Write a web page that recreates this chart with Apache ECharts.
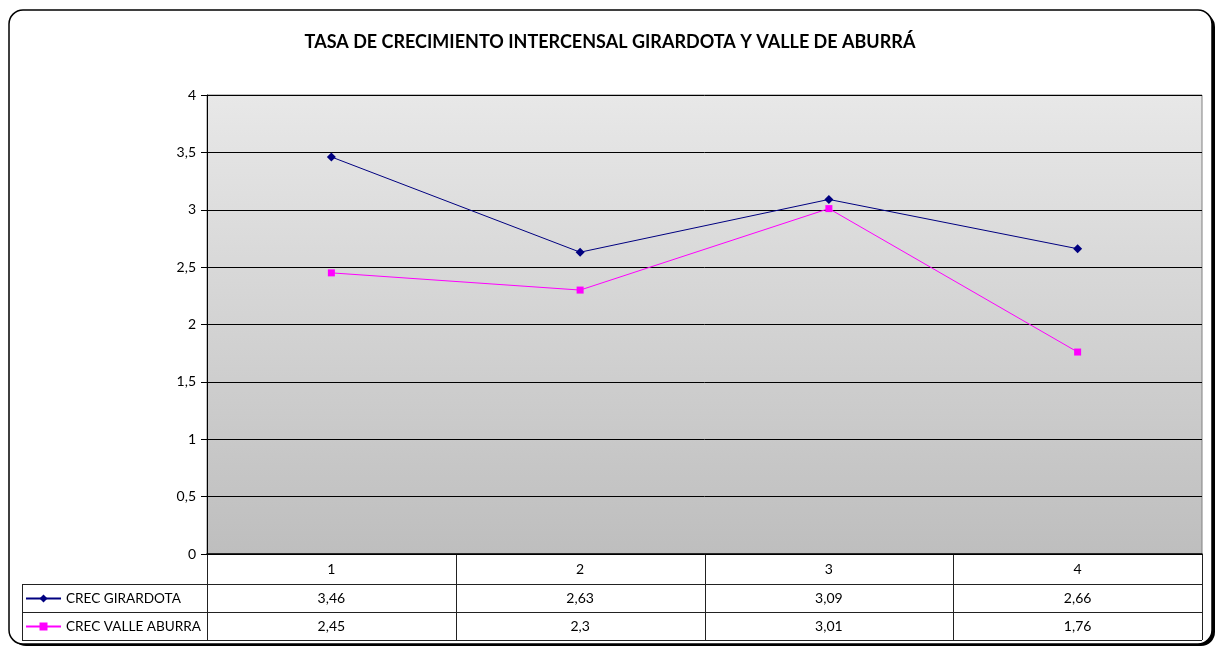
<!DOCTYPE html>
<html><head><meta charset="utf-8">
<script src="https://cdn.jsdelivr.net/npm/echarts@6/dist/echarts.min.js"></script>
<style>html,body{margin:0;padding:0;background:#fff}#c{width:1220px;height:647px}</style>
</head><body><div id="c"></div>
<script>
const title = 'TASA DE CRECIMIENTO INTERCENSAL GIRARDOTA Y VALLE DE ABURRÁ';
const categories = ['1', '2', '3', '4'];
const seriesNames = ['CREC GIRARDOTA', 'CREC VALLE ABURRA'];
const girardota = [3.46, 2.63, 3.09, 2.66];
const valle = [2.45, 2.3, 3.01, 1.76];
const yMin = 0, yMax = 4, yStep = 0.5;

const FONT = 'Lato';
const fmt = v => String(v).replace('.', ',');

const chart = echarts.init(document.getElementById('c'), null, {renderer: 'canvas'});

const option = {
  animation: false,
  backgroundColor: 'transparent',
  textStyle: {fontFamily: FONT},
  title: {
    text: title, left: 'center', top: 28,
    textStyle: {fontFamily: FONT, fontSize: 18, fontWeight: 'bold', color: '#000'}
  },
  legend: {
    orient: 'vertical', left: 20, top: 585,
    itemWidth: 35, itemHeight: 10, itemGap: 11,
    textStyle: {fontFamily: FONT, fontSize: 13.6, color: '#000', lineHeight: 17},
    data: seriesNames
  },
  grid: {
    left: 207, right: 18, top: 95, bottom: 93,
    show: true, borderColor: '#808080', borderWidth: 1,
    backgroundColor: new echarts.graphic.LinearGradient(0, 0, 0, 1, [
      {offset: 0, color: '#e8e8e8'}, {offset: 1, color: '#bebebe'}
    ])
  },
  xAxis: {
    type: 'category', data: categories, boundaryGap: true,
    axisLine: {show: true, lineStyle: {color: '#000', width: 1.5}},
    axisTick: {show: false},
    axisLabel: {margin: 8, fontFamily: FONT, fontSize: 14, color: '#000'},
    splitLine: {show: false}
  },
  yAxis: {
    type: 'value', min: yMin, max: yMax, interval: yStep,
    axisLine: {show: true, lineStyle: {color: '#000', width: 1}},
    axisTick: {show: true, inside: false, length: 6, lineStyle: {color: '#000'}},
    axisLabel: {margin: 11, fontFamily: FONT, fontSize: 14, color: '#000', formatter: v => fmt(v)},
    splitLine: {show: true, lineStyle: {color: '#000', width: 1}}
  },
  series: [
    {
      name: seriesNames[0], type: 'line', data: girardota,
      symbol: 'diamond', symbolSize: 9,
      lineStyle: {color: '#000080', width: 1},
      itemStyle: {color: '#000080'}
    },
    {
      name: seriesNames[1], type: 'line', data: valle,
      symbol: 'rect', symbolSize: 7,
      lineStyle: {color: '#ff00ff', width: 1},
      itemStyle: {color: '#ff00ff'}
    }
  ]
};
chart.setOption(option);

// Data table built from axis positions
const c0 = chart.convertToPixel({xAxisIndex: 0}, 0);
const c1 = chart.convertToPixel({xAxisIndex: 0}, 1);
const band = c1 - c0;
const y0 = chart.convertToPixel({yAxisIndex: 0}, yMin);
const leftX = 22;
const rows = [y0, y0 + 30, y0 + 58, y0 + 86];
const lineColor = '#222';
const g = [];
// outer frame
g.push({type: 'rect', z: -20, shape: {x: 12, y: 13, width: 1203, height: 633, r: 14}, style: {fill: '#000'}});
g.push({type: 'rect', z: -19, shape: {x: 9, y: 10, width: 1203, height: 634, r: 14}, style: {fill: '#fff', stroke: '#000', lineWidth: 1.5}});
const rightX = c0 - band / 2 + band * categories.length;
for (let k = 0; k <= categories.length; k++) {
  const x = Math.round(c0 - band / 2 + band * k) + 0.5;
  g.push({type: 'line', shape: {x1: x, y1: rows[0], x2: x, y2: rows[3]}, style: {stroke: lineColor, lineWidth: 1}});
}
g.push({type: 'line', shape: {x1: leftX + 0.5, y1: rows[1], x2: leftX + 0.5, y2: rows[3]}, style: {stroke: lineColor, lineWidth: 1}});
for (let r = 1; r <= 3; r++) {
  const y = Math.round(rows[r]) + 0.5;
  g.push({type: 'line', shape: {x1: leftX, y1: y, x2: rightX, y2: y}, style: {stroke: lineColor, lineWidth: 1}});
}
[girardota, valle].forEach((arr, si) => {
  arr.forEach((v, i) => {
    const cx = chart.convertToPixel({xAxisIndex: 0}, i);
    g.push({type: 'text', x: cx, y: (rows[si + 1] + rows[si + 2]) / 2,
      style: {text: fmt(v), fill: '#000', font: '14px ' + FONT, align: 'center', verticalAlign: 'middle'}});
  });
});
chart.setOption({graphic: g});
</script>
</body></html>
